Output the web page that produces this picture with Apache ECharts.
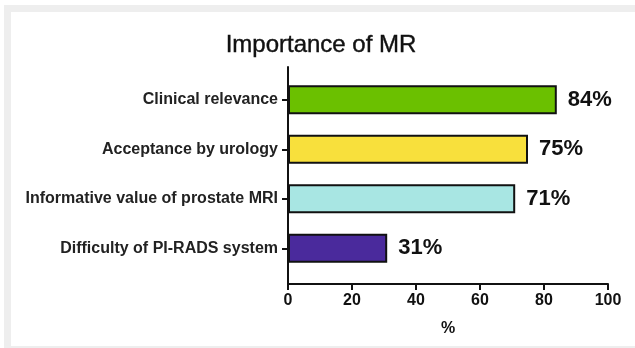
<!DOCTYPE html>
<html>
<head>
<meta charset="utf-8">
<script src="https://cdn.jsdelivr.net/npm/echarts@6/dist/echarts.min.js"></script>
<style>
  html, body { margin: 0; padding: 0; background: #ffffff; }
  #frame { position: absolute; left: 4px; top: 5px; width: 631px; height: 343px; background: #eeeeee; }
  #panel { position: absolute; left: 11px; top: 12px; width: 624px; height: 334px; background: #ffffff; }
  #chart { position: absolute; left: 0; top: 0; width: 635px; height: 348px; }
</style>
</head>
<body>
<div id="frame"></div>
<div id="panel"></div>
<div id="chart"></div>
<script>
// Survey items, shown top to bottom
const categories = [
  'Clinical relevance',
  'Acceptance by urology',
  'Informative value of prostate MRI',
  'Difficulty of PI-RADS system'
];
// Share of respondents (%)
const values = [84, 75, 71, 31];
const barColors = ['#6bc000', '#f8e03c', '#a8e6e3', '#4a2a9c'];
const xTicks = [0, 20, 40, 60, 80, 100];

const FONT = '"Liberation Sans", Arial, sans-serif';
const chart = echarts.init(document.getElementById('chart'), null, { renderer: 'canvas' });

chart.setOption({
  backgroundColor: 'transparent',
  animation: false,
  title: {
    text: 'Importance of MR',
    left: 316,
    textAlign: 'center',
    top: 28,
    textStyle: { fontFamily: FONT, fontSize: 24, fontWeight: 'normal', color: '#111',
                 textBorderColor: '#111', textBorderWidth: 0.4 }
  },
  grid: [
    // bars
    { left: 288, right: 27, top: 75, height: 198 },
    // axis frame
    { left: 288, right: 27, top: 67, bottom: 64 }
  ],
  xAxis: [
    { gridIndex: 0, type: 'value', min: 0, max: 100, show: false },
    {
      gridIndex: 1, type: 'value', min: xTicks[0], max: xTicks[xTicks.length - 1], interval: 20,
      axisLine: { show: true, lineStyle: { color: '#111', width: 2 } },
      axisTick: { show: true, length: 6, lineStyle: { color: '#111', width: 2 } },
      axisLabel: { fontFamily: FONT, fontSize: 16, fontWeight: 'bold', color: '#111', margin: 9 },
      splitLine: { show: false },
      name: '%', nameLocation: 'middle', nameGap: 37,
      nameTextStyle: { fontFamily: FONT, fontSize: 16, fontWeight: 'bold', color: '#111' }
    }
  ],
  yAxis: [
    {
      gridIndex: 0, type: 'category', data: categories, inverse: true,
      axisLine: { show: false },
      axisTick: { show: true, length: 6, alignWithLabel: true, lineStyle: { color: '#111', width: 2 } },
      axisLabel: { fontFamily: FONT, fontSize: 16, fontWeight: 'bold', color: '#222', margin: 10 }
    },
    {
      gridIndex: 1, type: 'value', min: 0, max: 1,
      axisLine: { show: true, lineStyle: { color: '#111', width: 2 } },
      axisTick: { show: false }, axisLabel: { show: false }, splitLine: { show: false }
    }
  ],
  series: [{
    type: 'bar',
    xAxisIndex: 0, yAxisIndex: 0,
    barWidth: 29,
    data: values.map((v, i) => ({
      value: v,
      itemStyle: { color: barColors[i], borderColor: '#111', borderWidth: 2 }
    })),
    label: {
      show: true, position: 'right', distance: 11,
      formatter: '{c}%',
      fontFamily: FONT, fontSize: 22, fontWeight: 'bold', color: '#111'
    }
  }]
});
</script>
</body>
</html>
